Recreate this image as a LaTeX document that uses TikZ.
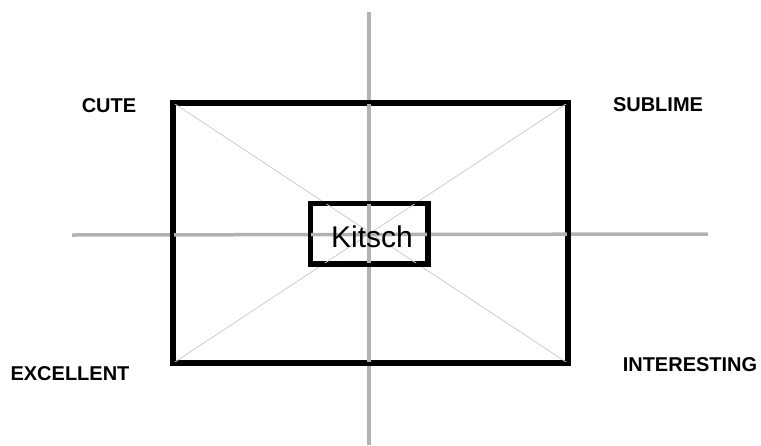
\documentclass[tikz,border=0pt]{standalone}
\usepackage{fontspec}
\setmainfont{Liberation Sans}
\begin{document}
\begin{tikzpicture}[x=1pt,y=-1pt,
    corner/.style={font=\fontsize{20}{22}\selectfont\bfseries},
    axis/.style={draw=black!30, line width=3.5pt},
    diag/.style={draw=black!20, line width=0.8pt}]
          \useasboundingbox (0,0) rectangle (761,445);

          % Frame and centre box
          \node[draw, line width=4pt, minimum width=393pt, minimum height=258pt, inner sep=0pt] (frame) at (370.5,233) {};
          \node[draw, line width=3.5pt, minimum width=116pt, minimum height=59pt, inner sep=0pt] (kitsch) at (369,233.5) {};

          % Diagonals
          \draw[diag] (frame.north west) -- (frame.south east);
          \draw[diag] (frame.north east) -- (frame.south west);

          % Axes
          \coordinate (top) at (369,12);
          \coordinate (bottom) at (369,445);
          \coordinate (left) at (72,235);
          \coordinate (right) at (708,234);
          \draw[axis] (top) -- (bottom);
          \draw[axis] (left) -- (right);

          % Frame again, on top of the axes
          \draw[line width=4pt] (frame.north west) rectangle (frame.south east);
          \draw[line width=3.5pt] (kitsch.north west) rectangle (kitsch.south east);
          \node[font=\fontsize{30}{32}\selectfont] (label) at (372,237) {Kitsch};

          % Corners
          \node[corner] (cute) at (109,106) {CUTE};
          \node[corner] (sublime) at (658,105) {SUBLIME};
          \node[corner] (excellent) at (70,374) {EXCELLENT};
          \node[corner] (interesting) at (690,365) {INTERESTING};
        \end{tikzpicture}
\end{document}
